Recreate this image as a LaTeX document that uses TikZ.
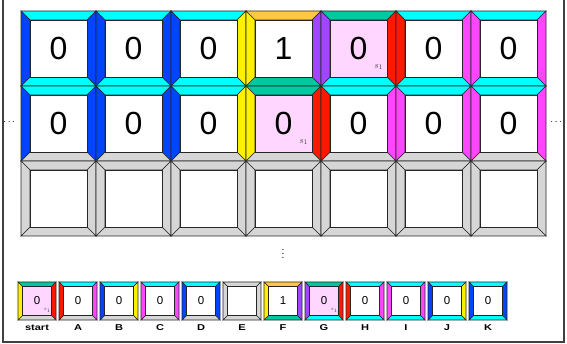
\documentclass[tikz,border=0pt]{standalone}
\usepackage{amsmath,amssymb,tikz}
\usepackage{fontspec}
\setmainfont{Liberation Sans}
\newfontfamily\labfont[FakeStretch=1.3]{Liberation Sans}
\usetikzlibrary{calc}
\definecolor{wCyan}{RGB}{0,255,255}
\definecolor{wBlue}{RGB}{0,68,255}
\definecolor{wYellow}{RGB}{255,240,0}
\definecolor{wOrange}{RGB}{255,200,64}
\definecolor{wPurple}{RGB}{160,70,255}
\definecolor{wTeal}{RGB}{0,200,160}
\definecolor{wRed}{RGB}{255,24,0}
\definecolor{wMagenta}{RGB}{255,70,255}
\definecolor{wGrey}{RGB}{214,214,214}
\definecolor{wPink}{RGB}{255,214,255}
\newcommand{\bw}{0.12}
% #1 name, #2 corner, #3 size, #4 top, #5 right, #6 bottom, #7 left, #8 inside, #9 text
\newcommand{\wang}[9]{%
\begin{scope}[shift={#2},scale=#3]
\filldraw[tileline,fill=#4] (0,0)--(1,0)--(1-\bw,\bw)--(\bw,\bw)--cycle;
\filldraw[tileline,fill=#5] (1,0)--(1,1)--(1-\bw,1-\bw)--(1-\bw,\bw)--cycle;
\filldraw[tileline,fill=#6] (1,1)--(0,1)--(\bw,1-\bw)--(1-\bw,1-\bw)--cycle;
\filldraw[tileline,fill=#7] (0,1)--(0,0)--(\bw,\bw)--(\bw,1-\bw)--cycle;
\filldraw[tileline,fill=#8] (\bw,\bw) rectangle (1-\bw,1-\bw);
\node[tiledigit] (#1) at (0.5,0.5) {#9};
\coordinate (#1-s) at (0.77,0.75);
\end{scope}}

\begin{document}
\begin{tikzpicture}[x=1pt,y=-1pt,
  tileline/.style={draw=black!85,line width=0.55pt,line join=miter},
  tiledigit/.style={font=\fontsize{32}{32}\selectfont,inner sep=0pt},
  stag/.style={font=\fontsize{9.5}{9.5}\selectfont,inner sep=0pt,black!75},
  lab/.style={font=\labfont\fontsize{8.5}{8.5}\selectfont\bfseries,inner sep=0pt}]
\useasboundingbox (0,0) rectangle (567,344);
\draw[black!75,line width=1.3pt] (3,0)--(3,342)--(564,342)--(564,0);
% ---------- row 1 ----------
\wang{r1c1}{(21,11)}{75}{wCyan}{wBlue}{wCyan}{wBlue}{white}{0}
\wang{r1c2}{(96,11)}{75}{wCyan}{wBlue}{wCyan}{wBlue}{white}{0}
\wang{r1c3}{(171,11)}{75}{wCyan}{wYellow}{wCyan}{wBlue}{white}{0}
\wang{r1c4}{(246,11)}{75}{wOrange}{wPurple}{wTeal}{wYellow}{white}{1}
\wang{r1c5}{(321,11)}{75}{wTeal}{wRed}{wCyan}{wPurple}{wPink}{0}
\wang{r1c6}{(396,11)}{75}{wCyan}{wMagenta}{wCyan}{wRed}{white}{0}
\wang{r1c7}{(471,11)}{75}{wCyan}{wMagenta}{wCyan}{wMagenta}{white}{0}
\node[stag] (s1r1) at (r1c5-s) {$s_1$};
% ---------- row 2 ----------
\wang{r2c1}{(21,86)}{75}{wCyan}{wBlue}{wGrey}{wBlue}{white}{0}
\wang{r2c2}{(96,86)}{75}{wCyan}{wBlue}{wGrey}{wBlue}{white}{0}
\wang{r2c3}{(171,86)}{75}{wCyan}{wYellow}{wGrey}{wBlue}{white}{0}
\wang{r2c4}{(246,86)}{75}{wTeal}{wRed}{wGrey}{wYellow}{wPink}{0}
\wang{r2c5}{(321,86)}{75}{wCyan}{wMagenta}{wGrey}{wRed}{white}{0}
\wang{r2c6}{(396,86)}{75}{wCyan}{wMagenta}{wGrey}{wMagenta}{white}{0}
\wang{r2c7}{(471,86)}{75}{wCyan}{wMagenta}{wGrey}{wMagenta}{white}{0}
\node[stag] (s1r2) at (r2c4-s) {$s_1$};
\node[font=\fontsize{10}{10}\selectfont,inner sep=0pt] (dotsL) at (10,122) {$\cdots$};
\node[font=\fontsize{10}{10}\selectfont,inner sep=0pt] (dotsR) at (557,122) {$\cdots$};
% ---------- row 3 ----------
\foreach \c in {0,...,6}
  \wang{r3c\c}{(21+75*\c,161)}{75}{wGrey}{wGrey}{wGrey}{wGrey}{white}{};
\node[font=\fontsize{10}{10}\selectfont,inner sep=0pt] (dotsV) at (283,251) {$\vdots$};
% ---------- tile set ----------
\begin{scope}[tiledigit/.style={font=\fontsize{11.5}{11.5}\selectfont,inner sep=0pt}]
\wang{start}{(18,282)}{38}{wTeal}{wRed}{wGrey}{wYellow}{wPink}{0}
\wang{tA}{(59,282)}{38}{wCyan}{wMagenta}{wGrey}{wRed}{white}{0}
\wang{tB}{(100,282)}{38}{wCyan}{wYellow}{wGrey}{wBlue}{white}{0}
\wang{tC}{(141,282)}{38}{wCyan}{wMagenta}{wGrey}{wMagenta}{white}{0}
\wang{tD}{(182,282)}{38}{wCyan}{wBlue}{wGrey}{wBlue}{white}{0}
\wang{tE}{(223,282)}{38}{wGrey}{wGrey}{wGrey}{wGrey}{white}{}
\wang{tF}{(264,282)}{38}{wOrange}{wPurple}{wTeal}{wYellow}{white}{1}
\wang{tG}{(305,282)}{38}{wTeal}{wRed}{wCyan}{wPurple}{wPink}{0}
\wang{tH}{(346,282)}{38}{wCyan}{wMagenta}{wCyan}{wRed}{white}{0}
\wang{tI}{(387,282)}{38}{wCyan}{wMagenta}{wCyan}{wMagenta}{white}{0}
\wang{tJ}{(428,282)}{38}{wCyan}{wYellow}{wCyan}{wBlue}{white}{0}
\wang{tK}{(469,282)}{38}{wCyan}{wBlue}{wCyan}{wBlue}{white}{0}
\end{scope}
\node[stag,font=\fontsize{4}{4}\selectfont] (s1start) at (start-s) {$s_1$};
\node[stag,font=\fontsize{4}{4}\selectfont] (s1G) at (tG-s) {$s_1$};
\foreach \n/\t [count=\i from 0] in {start/start,tA/A,tB/B,tC/C,tD/D,tE/E,tF/F,tG/G,tH/H,tI/I,tJ/J,tK/K}
  \node[lab] (lab\n) at (37+41*\i,327.5) {\t};
\end{tikzpicture}
\end{document}
